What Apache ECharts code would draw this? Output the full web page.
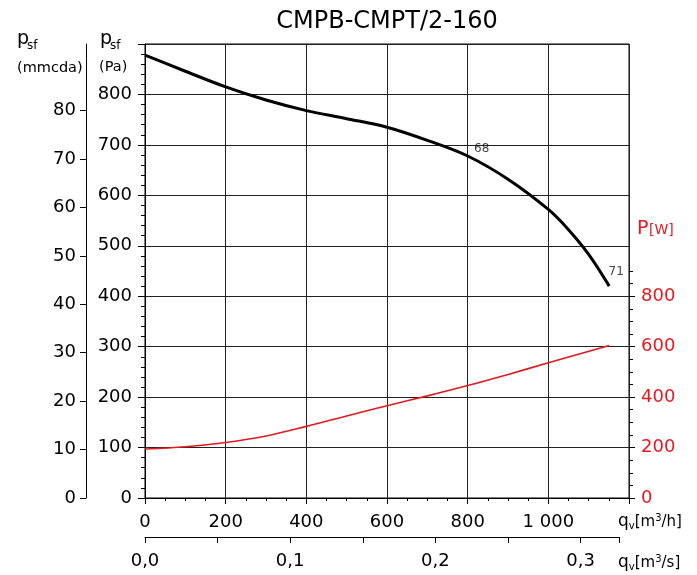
<!DOCTYPE html>
<html><head><meta charset="utf-8">
<script src="https://cdn.jsdelivr.net/npm/echarts@6/dist/echarts.min.js"></script>
<style>html,body{margin:0;padding:0;background:#fff}#c{width:697px;height:575px}</style>
</head><body><div id="c"></div>
<script>
// ---- data ----
const qPress = [0, 100, 200, 300, 400, 500, 600, 700, 800, 900, 1000, 1050, 1100, 1151];      // m3/h
const pPress = [878, 846, 815, 789, 768, 752, 735, 709, 678, 632, 572, 532, 483, 420];         // Pa
const qPower = [0, 100, 200, 300, 400, 500, 600, 700, 800, 900, 1000, 1151];                  // m3/h
const power  = [194, 203, 220, 246, 284, 325, 366, 405, 446, 490, 536, 605];                  // W
const effIdx = [8, 13];            // indices on the pressure curve where efficiency is noted
const effText = ['68', '71'];
const flowTicksH = [0, 200, 400, 600, 800, 1000];
const flowTicksS = [0, 0.1, 0.2, 0.3];
const paTicks = [0, 100, 200, 300, 400, 500, 600, 700, 800];
const mmTicks = [0, 10, 20, 30, 40, 50, 60, 70, 80];
const wTicks = [0, 200, 400, 600, 800];
const wMinorTicks = [50, 100, 150, 250, 300, 350, 450, 500, 550, 650, 700, 750, 850, 900];

const FONT = 'DejaVu Sans';
const RED = '#e5191f';
const BLACK = '#000';

const chart = echarts.init(document.getElementById('c'), null, {renderer: 'canvas'});

function zip(a, b) { return a.map((v, i) => [v, b[i]]); }
const fmtH = v => v >= 1000 ? String(v).replace(/(\d)(?=(\d{3})+$)/g, '$1 ') : String(v);
const fmtS = v => v.toFixed(1).replace('.', ',');

const lineBlack = {color: BLACK, width: 1};
const labelBase = {color: BLACK, fontSize: 18, fontFamily: FONT};

const option = {
  animation: false,
  textStyle: {fontFamily: FONT},
  grid: [
    {left: 145, top: 44, right: 68, bottom: 77, show: true, borderColor: '#000', borderWidth: 1},
    {left: 145, right: 78, top: 520, bottom: 38}
  ],
  xAxis: [
    {
      type: 'value', gridIndex: 0, min: 0, max: 1200, interval: 200,
      axisLine: {show: true, lineStyle: lineBlack},
      axisTick: {show: true, length: 6, lineStyle: lineBlack},
      minorTick: {show: true, splitNumber: 4, length: 3, lineStyle: lineBlack},
      axisLabel: Object.assign({}, labelBase, {margin: 15, customValues: flowTicksH, formatter: fmtH}),
      splitLine: {show: true, lineStyle: {color: '#222', width: 1}}
    },
    {
      type: 'value', gridIndex: 1, min: 0, max: 0.3265, interval: 0.1,
      axisLine: {show: true, lineStyle: lineBlack},
      axisTick: {show: true, length: 6, lineStyle: lineBlack},
      minorTick: {show: true, splitNumber: 2, length: 6, lineStyle: lineBlack},
      axisLabel: Object.assign({}, labelBase, {margin: 15, customValues: flowTicksS, formatter: fmtS}),
      splitLine: {show: false}
    }
  ],
  yAxis: [
    { // Pa
      type: 'value', gridIndex: 0, position: 'left', min: 0, max: 900, interval: 100,
      axisLine: {show: true, lineStyle: lineBlack},
      axisTick: {show: true, length: 7, lineStyle: lineBlack},
      minorTick: {show: true, splitNumber: 5, length: 4, lineStyle: lineBlack},
      axisLabel: Object.assign({}, labelBase, {margin: 13, customValues: paTicks}),
      splitLine: {show: true, lineStyle: {color: '#222', width: 1}}
    },
    { // mmcda
      type: 'value', gridIndex: 0, position: 'left', offset: 59, min: 0, max: 93.75,
      axisLine: {show: true, lineStyle: lineBlack},
      axisTick: {show: true, length: 6, lineStyle: lineBlack, customValues: mmTicks},
      axisLabel: Object.assign({}, labelBase, {margin: 10, customValues: mmTicks}),
      splitLine: {show: false}
    },
    { // W major
      type: 'value', gridIndex: 0, position: 'right', min: 0, max: 1800,
      axisLine: {show: false},
      axisTick: {show: true, length: 6, lineStyle: lineBlack, customValues: wTicks},
      axisLabel: Object.assign({}, labelBase, {color: RED, margin: 12, customValues: wTicks}),
      splitLine: {show: false}
    },
    { // W minor
      type: 'value', gridIndex: 0, position: 'right', min: 0, max: 1800,
      axisLine: {show: false},
      axisTick: {show: true, length: 4, lineStyle: lineBlack, customValues: wMinorTicks},
      axisLabel: {show: false},
      splitLine: {show: false}
    },
    {type: 'value', gridIndex: 1, show: false}
  ],
  series: [
    {
      type: 'line', xAxisIndex: 0, yAxisIndex: 0, data: zip(qPress, pPress),
      smooth: 0.35, symbol: 'none', lineStyle: {color: BLACK, width: 3}, z: 5
    },
    {
      type: 'line', xAxisIndex: 0, yAxisIndex: 2, data: zip(qPower, power),
      smooth: 0.35, symbol: 'none', lineStyle: {color: RED, width: 1.6}, z: 4
    },
    {
      type: 'scatter', xAxisIndex: 0, yAxisIndex: 0, symbolSize: 0, z: 6,
      data: effIdx.map((i, k) => ({
        value: [qPress[i], pPress[i]], name: effText[k],
        label: {offset: k === 0 ? [14, -7] : [7, -14]}
      })),
      label: {show: true, position: 'inside', formatter: p => p.name, fontSize: 12, color: '#111', fontFamily: FONT}
    }
  ],
  graphic: [
    {type: 'text', x: 387, y: 22, style: {text: 'CMPB-CMPT/2-160', font: '24px "DejaVu Sans"', fill: BLACK, align: 'center', verticalAlign: 'middle'}},
    {type: 'text', x: 17, y: 39, style: {text: 'p', font: '19px "DejaVu Sans"', fill: BLACK, verticalAlign: 'middle'}},
    {type: 'text', x: 27, y: 46, style: {text: 'sf', font: '12px "DejaVu Sans"', fill: BLACK, verticalAlign: 'middle'}},
    {type: 'text', x: 17, y: 68, style: {text: '(mmcda)', font: '14.5px "DejaVu Sans"', fill: BLACK, verticalAlign: 'middle'}},
    {type: 'text', x: 100, y: 39, style: {text: 'p', font: '19px "DejaVu Sans"', fill: BLACK, verticalAlign: 'middle'}},
    {type: 'text', x: 110, y: 46, style: {text: 'sf', font: '12px "DejaVu Sans"', fill: BLACK, verticalAlign: 'middle'}},
    {type: 'text', x: 99, y: 67, style: {text: '(Pa)', font: '14.5px "DejaVu Sans"', fill: BLACK, verticalAlign: 'middle'}},
    {type: 'text', x: 637, y: 229, style: {text: 'P', font: '19px "DejaVu Sans"', fill: RED, verticalAlign: 'middle'}},
    {type: 'text', x: 649, y: 230, style: {text: '[W]', font: '14px "DejaVu Sans"', fill: RED, verticalAlign: 'middle'}},
    {type: 'text', x: 618, y: 522, style: {
      text: '{q|q}{v|v}{b|[m}{s|3}{b|/h]}', fill: BLACK, verticalAlign: 'middle',
      rich: {q: {fontSize: 17, fontFamily: FONT, lineHeight: 18}, v: {fontSize: 10, fontFamily: FONT, verticalAlign: 'bottom', lineHeight: 10},
             b: {fontSize: 15, fontFamily: FONT, lineHeight: 18}, s: {fontSize: 10, fontFamily: FONT, verticalAlign: 'top', lineHeight: 10}}}},
    {type: 'text', x: 618, y: 563, style: {
      text: '{q|q}{v|v}{b|[m}{s|3}{b|/s]}', fill: BLACK, verticalAlign: 'middle',
      rich: {q: {fontSize: 17, fontFamily: FONT, lineHeight: 18}, v: {fontSize: 10, fontFamily: FONT, verticalAlign: 'bottom', lineHeight: 10},
             b: {fontSize: 15, fontFamily: FONT, lineHeight: 18}, s: {fontSize: 10, fontFamily: FONT, verticalAlign: 'top', lineHeight: 10}}}}
  ]
};
chart.setOption(option);
</script>
</body></html>
